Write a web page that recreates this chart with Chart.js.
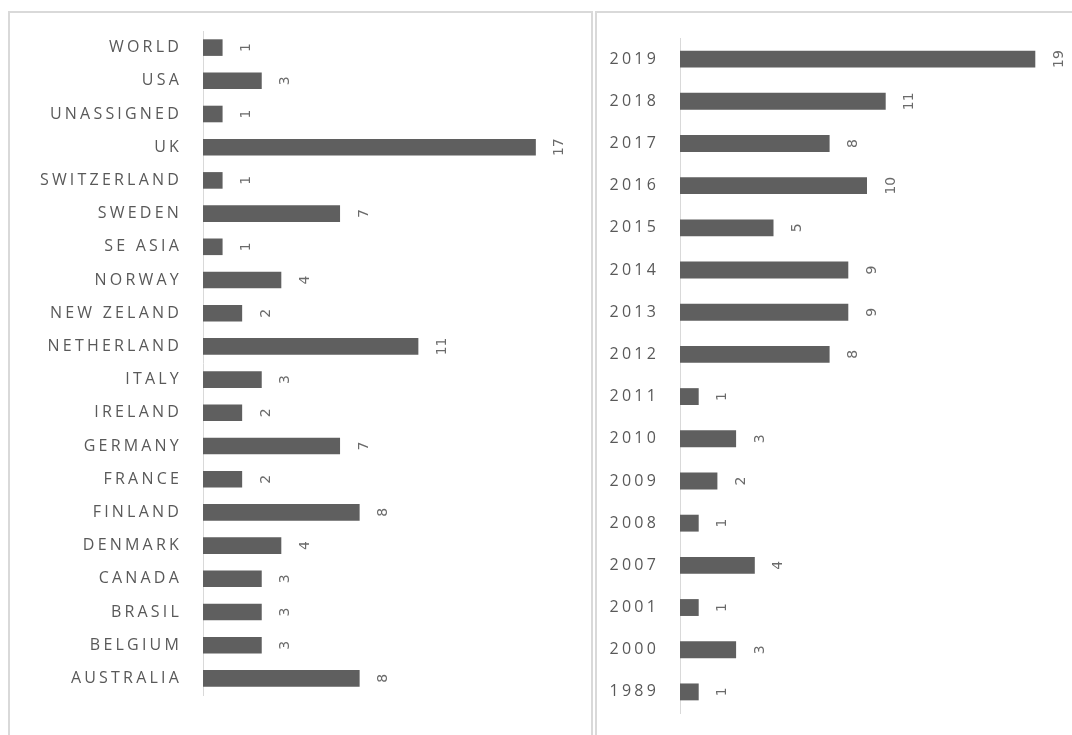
<!DOCTYPE html>
<html>
<head>
<meta charset="utf-8">
<script src="https://cdn.jsdelivr.net/npm/chart.js@4/dist/chart.umd.min.js"></script>
<style>
  body { margin: 0; background: #fff; width: 1072px; height: 735px; overflow: hidden; position: relative; }
  .panel { position: absolute; box-sizing: border-box; border: 2px solid #d9d9d9; }
  #leftPanel { left: 8px; top: 11px; width: 585px; height: 760px; }
  #rightPanel { left: 595px; top: 11px; width: 500px; height: 760px; }
  canvas { position: absolute; }
  #countryChart { left: 10px; top: 13px; }
  #yearChart { left: 597px; top: 13px; }
</style>
</head>
<body>
<div class="panel" id="leftPanel"></div>
<div class="panel" id="rightPanel"></div>
<canvas id="countryChart" width="581" height="722"></canvas>
<canvas id="yearChart" width="475" height="722"></canvas>
<script>
// 국가별 건수
const countries = ['WORLD', 'USA', 'UNASSIGNED', 'UK', 'SWITZERLAND', 'SWEDEN', 'SE ASIA', 'NORWAY',
  'NEW ZELAND', 'NETHERLAND', 'ITALY', 'IRELAND', 'GERMANY', 'FRANCE', 'FINLAND', 'DENMARK',
  'CANADA', 'BRASIL', 'BELGIUM', 'AUSTRALIA'];
const countryCounts = [1, 3, 1, 17, 1, 7, 1, 4, 2, 11, 3, 2, 7, 2, 8, 4, 3, 3, 3, 8];

// 연도별 건수
const years = ['2019', '2018', '2017', '2016', '2015', '2014', '2013', '2012', '2011', '2010',
  '2009', '2008', '2007', '2001', '2000', '1989'];
const yearCounts = [19, 11, 8, 10, 5, 9, 9, 8, 1, 3, 2, 1, 4, 1, 3, 1];

const textColor = '#595959';
const barColor = '#5f5f5f';

// 눈금 글자 간격 (자간)
const spacingPlugin = {
  id: 'spacing',
  beforeDraw(chart) { chart.ctx.letterSpacing = '3.2px'; },
  afterDraw(chart) { chart.ctx.letterSpacing = '0px'; }
};

// 막대 끝에 세로로 값 표시
const valueLabels = {
  id: 'valueLabels',
  afterDatasetsDraw(chart) {
    const ctx = chart.ctx;
    const meta = chart.getDatasetMeta(0);
    const values = chart.data.datasets[0].data;
    ctx.save();
    ctx.letterSpacing = '0px';
    ctx.fillStyle = '#6a6a6a';
    ctx.font = '14px "DejaVu Sans"';
    ctx.textAlign = 'center';
    ctx.textBaseline = 'middle';
    meta.data.forEach((bar, i) => {
      ctx.save();
      ctx.translate(bar.x + 24, bar.y);
      ctx.rotate(-Math.PI / 2);
      ctx.fillText(String(values[i]), 0, 0);
      ctx.restore();
    });
    ctx.restore();
  }
};

function makeChart(id, labels, values, opts) {
  return new Chart(document.getElementById(id).getContext('2d'), {
    type: 'bar',
    data: {
      labels: labels,
      datasets: [{
        data: values,
        backgroundColor: barColor,
        borderWidth: 0,
        categoryPercentage: 1,
        barPercentage: opts.barPct
      }]
    },
    options: {
      indexAxis: 'y',
      responsive: false,
      animation: false,
      events: [],
      layout: { padding: opts.padding },
      plugins: { legend: { display: false }, tooltip: { enabled: false } },
      scales: {
        x: { display: false, min: 0, max: opts.max },
        y: {
          // 축 폭 고정, 라벨 여백은 layout padding 으로만
          afterFit: s => {
            s.width = opts.axisWidth;
            s.paddingTop = 0;
            s.paddingBottom = 0;
          },
          grid: { display: false, drawTicks: false },
          border: { display: true, color: '#d9d9d9', width: 1 },
          ticks: {
            color: textColor,
            padding: opts.tickPad,
            font: { family: '"Open Sans"', size: 16 }
          }
        }
      }
    },
    plugins: [spacingPlugin, valueLabels]
  });
}

makeChart('countryChart', countries, countryCounts, {
  barPct: 0.5, max: 19, axisWidth: 193, tickPad: 21,
  padding: { left: 0, right: 16, top: 18, bottom: 40 }
});

makeChart('yearChart', years, yearCounts, {
  barPct: 0.4, max: 20, axisWidth: 83, tickPad: 21,
  padding: { left: 0, right: 18, top: 25, bottom: 22 }
});
</script>
</body>
</html>
